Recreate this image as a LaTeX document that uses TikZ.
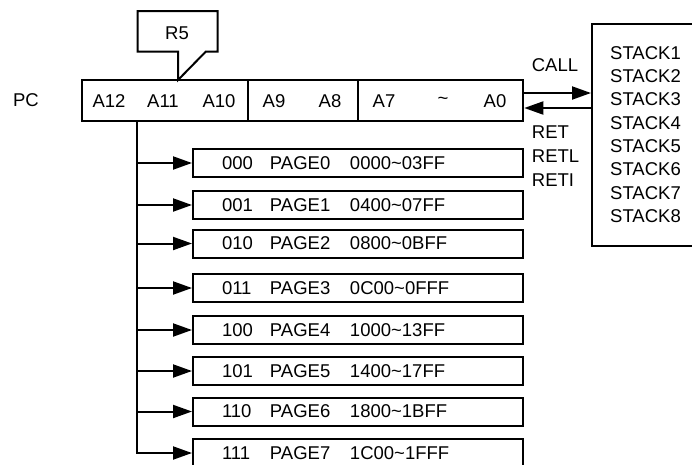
\documentclass[tikz,border=0pt]{standalone}
\usepackage{fontspec}
\setmainfont{Liberation Sans}
\usetikzlibrary{arrows.meta}
\tikzset{
  field/.style={draw, line width=2pt, inner sep=0pt, minimum height=41pt},
  pagebox/.style={draw, line width=2pt, minimum width=330pt, minimum height=28pt,
    inner xsep=29pt, inner ysep=0pt, text width=272pt, align=left},
  label/.style={inner sep=0pt},
  arr/.style={line width=2pt, -{Triangle[length=19pt, width=13pt]}},
  wire/.style={line width=2pt}
}
\newcommand{\pg}[3]{\makebox[48pt][l]{#1}\makebox[80pt][l]{#2}#3}

\begin{document}
\begin{tikzpicture}[x=1pt, y=-1pt, font=\fontsize{18.5}{22}\selectfont]
  \useasboundingbox (0,0) rectangle (692,464);

  % program counter
  \node[label] (pc) at (26,100) {PC};
  \node[field, minimum width=166pt] (hi) at (164.7,100.5) {};
  \node[field, minimum width=110pt] (mid) at (302.7,100.5) {};
  \node[field, minimum width=165.6pt] (lo) at (440.5,100.5) {};
  \node[label] at (109,101) {A12};
  \node[label] at (163,101) {A11};
  \node[label] at (219,101) {A10};
  \node[label] at (274,101) {A9};
  \node[label] at (330,101) {A8};
  \node[label] at (384,101) {A7};
  \node[label] at (443,101) {\textasciitilde};
  \node[label] at (495,101) {A0};

  % R5 callout
  \draw[wire] (137.7,11) -- (217.7,11) -- (217.7,51.7) -- (205.7,51.7)
    -- (178,80) -- (178,51.7) -- (137.7,51.7) -- cycle;
  \node[label] (r5) at (177,33) {R5};

  % stack
  \node[field, minimum width=128pt, minimum height=222pt] (stack) at (656,135) {};
  \node[label, anchor=west] at (610,53) {STACK1};
  \node[label, anchor=west] at (610,76.3) {STACK2};
  \node[label, anchor=west] at (610,99.6) {STACK3};
  \node[label, anchor=west] at (610,122.9) {STACK4};
  \node[label, anchor=west] at (610,146.2) {STACK5};
  \node[label, anchor=west] at (610,169.5) {STACK6};
  \node[label, anchor=west] at (610,192.8) {STACK7};
  \node[label, anchor=west] at (610,216.1) {STACK8};

  \draw[arr] ([yshift=7.5pt]lo.east) -- ([yshift=7.5pt]lo.east -| stack.west);
  \draw[arr] ([yshift=-7.5pt]lo.east -| stack.west) -- ([yshift=-7.5pt]lo.east);
  \node[label] (call) at (555,65) {CALL};
  \node[label, anchor=west] (ret) at (531.7,131.7) {RET};
  \node[label, anchor=west] (retl) at (531.7,156.2) {RETL};
  \node[label, anchor=west] (reti) at (531.7,180) {RETI};

  % pages
  \node[pagebox] (p0) at (358,163) {\pg{000}{PAGE0}{0000\textasciitilde03FF}};
  \node[pagebox] (p1) at (358,205) {\pg{001}{PAGE1}{0400\textasciitilde07FF}};
  \node[pagebox] (p2) at (358,243.5) {\pg{010}{PAGE2}{0800\textasciitilde0BFF}};
  \node[pagebox] (p3) at (358,288) {\pg{011}{PAGE3}{0C00\textasciitilde0FFF}};
  \node[pagebox] (p4) at (358,330) {\pg{100}{PAGE4}{1000\textasciitilde13FF}};
  \node[pagebox] (p5) at (358,371) {\pg{101}{PAGE5}{1400\textasciitilde17FF}};
  \node[pagebox] (p6) at (358,411.5) {\pg{110}{PAGE6}{1800\textasciitilde1BFF}};
  \node[pagebox] (p7) at (358,453) {\pg{111}{PAGE7}{1C00\textasciitilde1FFF}};

  \coordinate (bus) at (137,121);
  \draw[arr] (bus |- p0.west) -- (p0.west);
  \draw[arr] (bus |- p1.west) -- (p1.west);
  \draw[arr] (bus |- p2.west) -- (p2.west);
  \draw[arr] (bus |- p3.west) -- (p3.west);
  \draw[arr] (bus |- p4.west) -- (p4.west);
  \draw[arr] (bus |- p5.west) -- (p5.west);
  \draw[arr] (bus |- p6.west) -- (p6.west);
  \draw[arr] (bus) -- (bus |- p7.west) -- (p7.west);
\end{tikzpicture}
\end{document}
